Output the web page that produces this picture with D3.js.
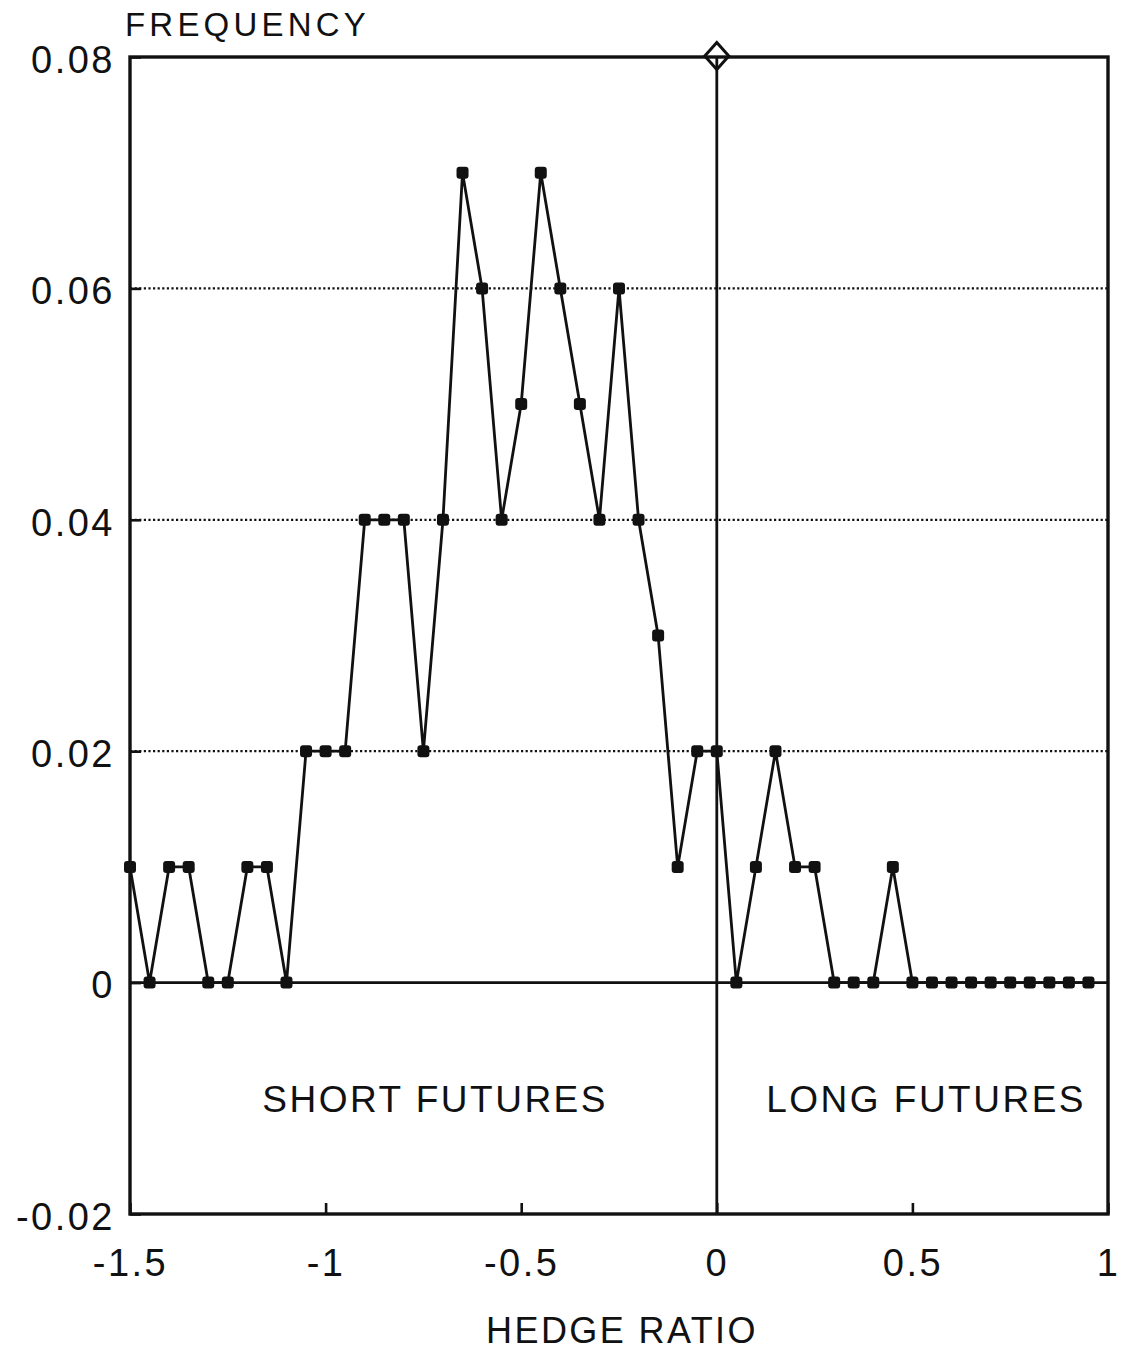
<!DOCTYPE html>
<html>
<head>
<meta charset="utf-8">
<script src="https://cdn.jsdelivr.net/npm/d3@7"></script>
<style>
  html, body { margin: 0; padding: 0; background: #fff; }
  svg text { font-family: "Liberation Sans", Arial, sans-serif; fill: #111; }
</style>
</head>
<body>
<svg id="chart" width="1122" height="1350"></svg>
<script>
// Hedge ratio bins (step 0.05) and the share of observations in each
const hedgeRatios = [
  -1.5, -1.45, -1.4, -1.35, -1.3, -1.25, -1.2, -1.15, -1.1, -1.05,
  -1.0, -0.95, -0.9, -0.85, -0.8, -0.75, -0.7, -0.65, -0.6, -0.55,
  -0.5, -0.45, -0.4, -0.35, -0.3, -0.25, -0.2, -0.15, -0.1, -0.05,
  0.0, 0.05, 0.1, 0.15, 0.2, 0.25, 0.3, 0.35, 0.4, 0.45,
  0.5, 0.55, 0.6, 0.65, 0.7, 0.75, 0.8, 0.85, 0.9, 0.95
];
const frequencies = [
  0.01, 0.00, 0.01, 0.01, 0.00, 0.00, 0.01, 0.01, 0.00, 0.02,
  0.02, 0.02, 0.04, 0.04, 0.04, 0.02, 0.04, 0.07, 0.06, 0.04,
  0.05, 0.07, 0.06, 0.05, 0.04, 0.06, 0.04, 0.03, 0.01, 0.02,
  0.02, 0.00, 0.01, 0.02, 0.01, 0.01, 0.00, 0.00, 0.00, 0.01,
  0.00, 0.00, 0.00, 0.00, 0.00, 0.00, 0.00, 0.00, 0.00, 0.00
];

const xTicks = [-1.5, -1, -0.5, 0, 0.5, 1];
const xTickLabels = ["-1.5", "-1", "-0.5", "0", "0.5", "1"];
const yTicks = [-0.02, 0, 0.02, 0.04, 0.06, 0.08];
const yTickLabels = ["-0.02", "0", "0.02", "0.04", "0.06", "0.08"];
const gridValues = [0.02, 0.04, 0.06];

// Marker placed on the zero hedge ratio at the top of the frame
const referenceMark = { x: 0, y: 0.08 };

const regionLabels = [
  { text: "SHORT FUTURES", x: -0.72 },
  { text: "LONG FUTURES", x: 0.535 }
];

const svg = d3.select("#chart");
const plot = { left: 130, right: 1108, top: 57, bottom: 1214 };

const x = d3.scaleLinear().domain([-1.5, 1]).range([plot.left, plot.right]);
const y = d3.scaleLinear().domain([-0.02, 0.08]).range([plot.bottom, plot.top]);

const ink = "#111";

// dotted horizontal gridlines
svg.append("g")
  .selectAll("line")
  .data(gridValues)
  .join("line")
  .attr("x1", plot.left).attr("x2", plot.right)
  .attr("y1", d => y(d)).attr("y2", d => y(d))
  .attr("stroke", ink)
  .attr("stroke-width", 2.2)
  .attr("stroke-dasharray", "2.2,2.4");

// axes with inward ticks
const xAxis = d3.axisBottom(x)
  .tickValues(xTicks)
  .tickFormat((d, i) => xTickLabels[i])
  .tickSizeInner(-11)
  .tickSizeOuter(0);
const gx = svg.append("g")
  .attr("transform", `translate(0,${plot.bottom})`)
  .call(xAxis);
gx.select(".domain").remove();
gx.selectAll(".tick line").attr("stroke", ink).attr("stroke-width", 2.6);
gx.selectAll(".tick text")
  .attr("y", 62)
  .attr("dy", 0)
  .attr("font-size", 38)
  .attr("letter-spacing", 2.5)
  .attr("fill", ink);

const yAxis = d3.axisLeft(y)
  .tickValues(yTicks)
  .tickFormat((d, i) => yTickLabels[i])
  .tickSizeInner(-11)
  .tickSizeOuter(0)
  .tickPadding(15);
const gy = svg.append("g")
  .attr("transform", `translate(${plot.left},0)`)
  .call(yAxis);
gy.select(".domain").remove();
gy.selectAll(".tick line").attr("stroke", ink).attr("stroke-width", 2.6);
gy.selectAll(".tick text")
  .attr("font-size", 38)
  .attr("letter-spacing", 2.5)
  .attr("dy", "0.4em")
  .attr("fill", ink);

// zero baseline and zero hedge-ratio divider
svg.append("line")
  .attr("x1", plot.left).attr("x2", plot.right)
  .attr("y1", y(0)).attr("y2", y(0))
  .attr("stroke", ink).attr("stroke-width", 2.8);
svg.append("line")
  .attr("x1", x(0)).attr("x2", x(0))
  .attr("y1", plot.top).attr("y2", plot.bottom)
  .attr("stroke", ink).attr("stroke-width", 2.8);

// plot frame
svg.append("rect")
  .attr("x", plot.left).attr("y", plot.top)
  .attr("width", plot.right - plot.left)
  .attr("height", plot.bottom - plot.top)
  .attr("fill", "none")
  .attr("stroke", ink)
  .attr("stroke-width", 3.4);

// frequency line
const points = hedgeRatios.map((h, i) => [h, frequencies[i]]);
svg.append("path")
  .datum(points)
  .attr("fill", "none")
  .attr("stroke", ink)
  .attr("stroke-width", 2.8)
  .attr("stroke-linejoin", "miter")
  .attr("d", d3.line().x(d => x(d[0])).y(d => y(d[1])));

// square markers
const m = 12;
svg.append("g")
  .selectAll("rect")
  .data(points)
  .join("rect")
  .attr("x", d => x(d[0]) - m / 2)
  .attr("y", d => y(d[1]) - m / 2)
  .attr("width", m).attr("height", m)
  .attr("rx", 3)
  .attr("fill", ink);

// open diamond
const dw = 12, dh = 13.5;
const cx = x(referenceMark.x), cy = y(referenceMark.y) - 1;
svg.append("path")
  .attr("d", `M${cx},${cy - dh} L${cx + dw},${cy} L${cx},${cy + dh} L${cx - dw},${cy}Z`)
  .attr("fill", "#fff")
  .attr("stroke", ink)
  .attr("stroke-width", 3);
svg.append("line")
  .attr("x1", cx).attr("x2", cx)
  .attr("y1", cy).attr("y2", cy + dh)
  .attr("stroke", ink).attr("stroke-width", 2.8);
svg.append("line")
  .attr("x1", cx - dw).attr("x2", cx + dw)
  .attr("y1", plot.top).attr("y2", plot.top)
  .attr("stroke", ink).attr("stroke-width", 3.4);

// region labels
svg.append("g")
  .selectAll("text")
  .data(regionLabels)
  .join("text")
  .attr("x", d => x(d.x))
  .attr("y", 1112)
  .attr("text-anchor", "middle")
  .attr("font-size", 37)
  .attr("letter-spacing", 2.5)
  .text(d => d.text);

// axis titles
svg.append("text")
  .attr("x", 125)
  .attr("y", 36)
  .attr("font-size", 33)
  .attr("letter-spacing", 4.2)
  .text("FREQUENCY");

svg.append("text")
  .attr("x", 622)
  .attr("y", 1343)
  .attr("text-anchor", "middle")
  .attr("font-size", 36)
  .attr("letter-spacing", 2.4)
  .text("HEDGE RATIO");
</script>
</body>
</html>
